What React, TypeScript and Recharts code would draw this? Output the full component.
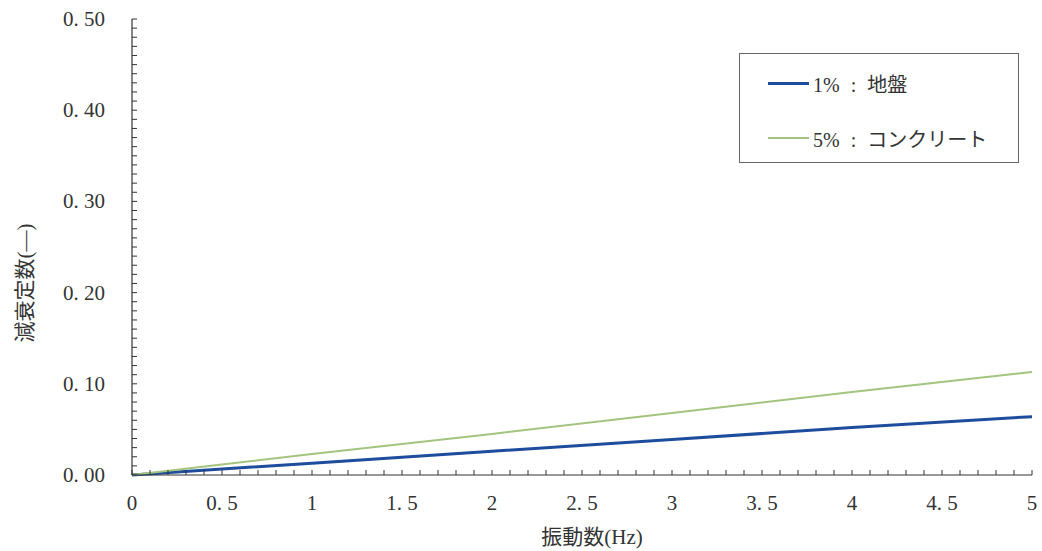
import React from 'react';
import { LineChart, Line, XAxis, YAxis, Legend, Label } from 'recharts';

const freqHz = [0, 1, 2, 3, 4, 5];
const damping1 = [0, 0.013, 0.026, 0.039, 0.052, 0.064];
const damping5 = [0, 0.023, 0.045, 0.068, 0.091, 0.113];

const xMajorTicks = [0, 0.5, 1, 1.5, 2, 2.5, 3, 3.5, 4, 4.5, 5];
const xMajorLabels = ['0', '0. 5', '1', '1. 5', '2', '2. 5', '3', '3. 5', '4', '4. 5', '5'];
const yMajorTicks = [0, 0.1, 0.2, 0.3, 0.4, 0.5];
const yMajorLabels = ['0. 00', '0. 10', '0. 20', '0. 30', '0. 40', '0. 50'];

const seriesNames = ['1% : 地盤', '5% : コンクリート'];
const seriesColors = ['#1d4d9c', '#a3c47f'];

const xAllTicks = Array.from({ length: 51 }, (_, i) => Math.round(i * 10) / 100);
const yAllTicks = Array.from({ length: 51 }, (_, i) => Math.round(i) / 100);

const data = freqHz.map((f, i) => ({ f, d1: damping1[i], d5: damping5[i] }));

const FONT = '"Liberation Serif", "DejaVu Serif", "Noto Sans CJK JP", serif';

const findLabel = (ticks: number[], labels: string[], v: number) => {
  const idx = ticks.findIndex((t) => Math.abs(t - v) < 1e-6);
  return idx >= 0 ? labels[idx] : null;
};

const renderXTick = (props: any) => {
  const { x, y, payload } = props;
  const label = findLabel(xMajorTicks, xMajorLabels, payload.value);
  return (
    <g key={`xt-${payload.value}`}>
      <path d={`M${x},${y}L${x},${y - 5}`} stroke="#333" strokeWidth={1} fill="none" />
      {label !== null && (
        <text x={x} y={y + 35} textAnchor="middle" fontSize={21} fill="#333" fontFamily={FONT}>
          {label}
        </text>
      )}
    </g>
  );
};

const renderYTick = (props: any) => {
  const { x, y, payload } = props;
  const label = findLabel(yMajorTicks, yMajorLabels, payload.value);
  return (
    <g key={`yt-${payload.value}`}>
      <path d={`M${x},${y}L${x + 5},${y}`} stroke="#333" strokeWidth={1} fill="none" />
      {label !== null && (
        <text x={x - 27} y={y + 7} textAnchor="end" fontSize={21} fill="#333" fontFamily={FONT}>
          {label}
        </text>
      )}
    </g>
  );
};

const LegendBox = () => (
  <div
    style={{
      width: 280,
      height: 110,
      border: '1px solid #666',
      boxSizing: 'border-box',
      background: '#fff',
      fontFamily: FONT,
      fontSize: 20,
      color: '#333',
      position: 'relative',
    }}
  >
    {seriesNames.map((name, i) => (
      <div
        key={name}
        style={{
          position: 'absolute',
          left: 28,
          top: 16 + i * 55,
          height: 26,
          display: 'flex',
          alignItems: 'center',
          whiteSpace: 'pre',
        }}
      >
        <span
          style={{
            display: 'inline-block',
            width: 41,
            height: i === 0 ? 3 : 2,
            background: seriesColors[i],
            marginRight: 4,
          }}
        />
        <span style={{ wordSpacing: 6 }}>{name}</span>
      </div>
    ))}
  </div>
);

export default function App() {
  return (
    <div style={{ position: 'absolute', left: 0, top: 0, background: '#fff' }}>
      <LineChart
        width={1042}
        height={551}
        data={data}
        margin={{ top: 19, right: 10, bottom: 0, left: 0 }}
        style={{ background: '#fff' }}
      >
        <XAxis
          dataKey="f"
          type="number"
          domain={[0, 5]}
          ticks={xAllTicks}
          interval={0}
          tick={renderXTick}
          tickLine={false}
          tickSize={0}
          tickMargin={0}
          height={76}
          axisLine={{ stroke: '#333', strokeWidth: 1.2 }}
        >
          <Label
            content={() => (
              <text x={592} y={544} textAnchor="middle" fontSize={21} fill="#333" fontFamily={FONT}>
                振動数(Hz)
              </text>
            )}
          />
        </XAxis>
        <XAxis
          xAxisId="top"
          orientation="top"
          type="number"
          domain={[0, 5]}
          height={0}
          tick={false}
          tickLine={false}
          axisLine={{ stroke: '#666', strokeWidth: 1.2 }}
        />
        <YAxis
          type="number"
          domain={[0, 0.5]}
          ticks={yAllTicks}
          interval={0}
          tick={renderYTick}
          tickLine={false}
          tickSize={0}
          tickMargin={0}
          width={132}
          axisLine={{ stroke: '#333', strokeWidth: 1.2 }}
        >
          <Label
            content={() => (
              <text
                x={25}
                y={283}
                transform="rotate(-90, 25, 283)"
                textAnchor="middle"
                dominantBaseline="central"
                fontSize={21}
                fill="#333"
                fontFamily={FONT}
              >
                減衰定数(—)
              </text>
            )}
          />
        </YAxis>
        <YAxis
          yAxisId="right"
          orientation="right"
          type="number"
          domain={[0, 0.5]}
          width={0}
          tick={false}
          tickLine={false}
          axisLine={{ stroke: '#666', strokeWidth: 1.2 }}
        />
        <Legend
          layout="horizontal"
          verticalAlign="middle"
          align="center"
          content={() => <LegendBox />}
          wrapperStyle={{ left: 739, top: 53, width: 280, height: 110 }}
        />
        <Line
          dataKey="d1"
          name={seriesNames[0]}
          stroke={seriesColors[0]}
          strokeWidth={3}
          dot={false}
          isAnimationActive={false}
        />
        <Line
          dataKey="d5"
          name={seriesNames[1]}
          stroke={seriesColors[1]}
          strokeWidth={2}
          dot={false}
          isAnimationActive={false}
        />
      </LineChart>
    </div>
  );
}
